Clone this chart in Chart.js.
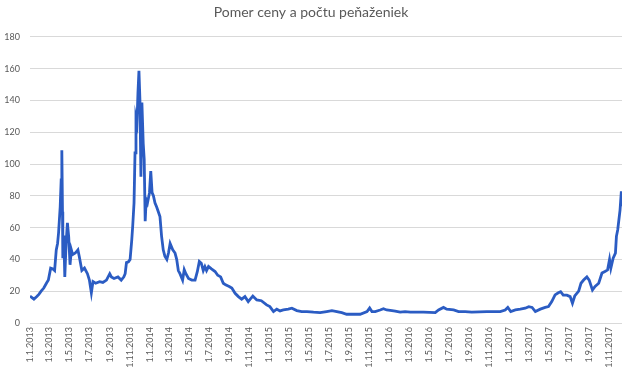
<!DOCTYPE html>
<html>
<head>
<meta charset="utf-8">
<script src="https://cdn.jsdelivr.net/npm/chart.js@4"></script>
<style>
  html, body { margin: 0; padding: 0; background: #fff; }
  #wrap { width: 630px; height: 371px; }
</style>
</head>
<body>
<div id="wrap"><canvas id="ratioChart"></canvas></div>
<script>
// Pomer ceny a počtu peňaženiek
// days = days since 1.1.2013, ratio = value on that day
const days = [
    0, 6, 12, 20, 27, 34, 42, 50, 56, 63, 70, 75, 80, 84, 87, 92, 95, 97, 99, 100,
    103, 106, 110, 114, 118, 122, 126, 130, 138, 146, 150, 158, 166, 175, 181, 187, 192, 200, 212, 222,
    233, 243, 248, 256, 268, 278, 286, 290, 294, 300, 305, 310, 313, 317, 320, 323, 326, 329, 332, 335,
    338, 341, 345, 348, 351, 354, 358, 364, 368, 372, 376, 381, 386, 391, 396, 401, 406, 411, 417, 422,
    427, 435, 442, 447, 452, 457, 465, 470, 475, 483, 493, 503, 510, 516, 522, 528, 533, 538, 544, 553,
    564, 572, 581, 589, 596, 607, 615, 625, 635, 645, 655, 665, 679, 691, 705, 721, 731, 742, 752, 762,
    772, 787, 798, 813, 828, 844, 864, 884, 904, 920, 935, 950, 965, 986, 1006, 1027, 1035, 1042, 1052, 1067,
    1077, 1087, 1103, 1113, 1128, 1143, 1159, 1199, 1235, 1245, 1260, 1270, 1291, 1306, 1326, 1346, 1392, 1433, 1448, 1456,
    1465, 1479, 1494, 1509, 1520, 1530, 1540, 1555, 1570, 1580, 1590, 1600, 1610, 1617, 1625, 1636, 1646, 1653, 1660, 1672,
    1679, 1687, 1697, 1704, 1714, 1722, 1733, 1743, 1752, 1760, 1766, 1770, 1777, 1784, 1787, 1791, 1798, 1802, 1804
];
const ratio = [
    17, 16, 15, 16.5, 18, 20, 22, 25, 27, 34.5, 34, 33, 46, 50, 56.6, 73, 90, 108.7, 70, 40.8,
    55, 29, 50, 63, 54, 36.6, 46, 43, 44, 46, 42, 33, 34.6, 31, 27, 19, 26, 25, 26, 25.5,
    27, 31, 29, 28, 29, 27, 29, 31, 38, 38.5, 40, 52, 61, 75.5, 107, 129, 126, 145, 158.6, 140,
    92, 138.6, 113, 103, 64, 77.6, 75.5, 81.8, 95.5, 82, 80, 75.5, 73, 70, 67, 54.5, 46, 42, 40, 44,
    50, 46, 44, 40, 33, 31, 27, 33.5, 31, 28, 27, 27, 32.4, 38.7, 37.6, 33, 35.5, 33, 35.5, 34,
    32.4, 30, 29, 25, 24, 23, 22, 18.7, 16.6, 15, 16.6, 13.5, 17, 14.5, 14, 11.4, 10.3, 7.2, 8.7, 7.6,
    8.2, 8.7, 9.3, 7.8, 7.2, 7.2, 6.8, 6.5, 7.2, 7.8, 7.2, 6.5, 5.5, 5.5, 5.5, 7.2, 9.4, 7.2, 7.2, 8.2,
    9, 8.2, 7.8, 7.5, 6.8, 7.2, 6.8, 6.8, 6.5, 8.2, 9.8, 8.7, 8.2, 7.2, 7.2, 6.8, 7.2, 7.2, 8.2, 9.8,
    7.2, 8.2, 8.7, 9.3, 10.3, 9.8, 7.2, 8.7, 9.8, 10.3, 13.5, 17.7, 19, 19.7, 17.5, 17.5, 16.6, 12.4, 17, 20,
    25, 27, 29, 27, 20.8, 23, 25, 31.4, 32.4, 33.4, 40, 34.5, 40.8, 44, 54.5, 58.7, 71, 82.8, 73.4
];
const tickLabels = [
    '1.1.2013', '1.3.2013', '1.5.2013', '1.7.2013', '1.9.2013', '1.11.2013',
    '1.1.2014', '1.3.2014', '1.5.2014', '1.7.2014', '1.9.2014', '1.11.2014',
    '1.1.2015', '1.3.2015', '1.5.2015', '1.7.2015', '1.9.2015', '1.11.2015',
    '1.1.2016', '1.3.2016', '1.5.2016', '1.7.2016', '1.9.2016', '1.11.2016',
    '1.1.2017', '1.3.2017', '1.5.2017', '1.7.2017', '1.9.2017', '1.11.2017'
];

const DAY = 24 * 3600 * 1000;
const start = Date.UTC(2013, 0, 1);
function dayOf(label) {
    const p = label.split('.').map(Number);
    return Math.round((Date.UTC(p[2], p[1] - 1, p[0]) - start) / DAY);
}
const tickDays = tickLabels.map(dayOf);

const gridColor = '#d9d9d9';
const textColor = '#595959';
const fontFamily = 'Lato, "Liberation Sans", sans-serif';

new Chart(document.getElementById('ratioChart'), {
    type: 'line',
    data: {
        datasets: [{
            label: 'Pomer',
            data: days.map((d, i) => ({ x: d, y: ratio[i] })),
            borderColor: '#2b5cc3',
            borderWidth: 2.8,
            pointRadius: 0,
            fill: false,
            tension: 0
        }]
    },
    options: {
        responsive: true,
        maintainAspectRatio: false,
        animation: false,
        layout: { padding: { left: 0, right: 8, top: 0, bottom: 0 } },
        plugins: {
            legend: { display: false },
            tooltip: { enabled: false },
            title: {
                display: true,
                text: 'Pomer ceny a počtu peňaženiek',
                color: textColor,
                font: { family: fontFamily, size: 14, weight: 'normal' },
                padding: { top: 4, bottom: 16 }
            }
        },
        scales: {
            x: {
                type: 'linear',
                min: 0,
                max: days[days.length - 1],
                afterBuildTicks: axis => { axis.ticks = tickDays.map(v => ({ value: v })); },
                afterFit: axis => { axis.height = 48; },
                grid: { display: false, drawTicks: false },
                border: { display: false },
                ticks: {
                    autoSkip: false,
                    minRotation: 90,
                    maxRotation: 90,
                    padding: 4,
                    color: textColor,
                    font: { family: fontFamily, size: 9 },
                    callback: (v, i) => tickLabels[i]
                }
            },
            y: {
                min: 0,
                max: 180,
                afterFit: axis => { axis.width = 30; },
                grid: { color: gridColor, lineWidth: 1, drawTicks: false },
                border: { display: false },
                ticks: {
                    stepSize: 20,
                    padding: 10,
                    color: textColor,
                    font: { family: fontFamily, size: 9 }
                }
            }
        }
    }
});
</script>
</body>
</html>
